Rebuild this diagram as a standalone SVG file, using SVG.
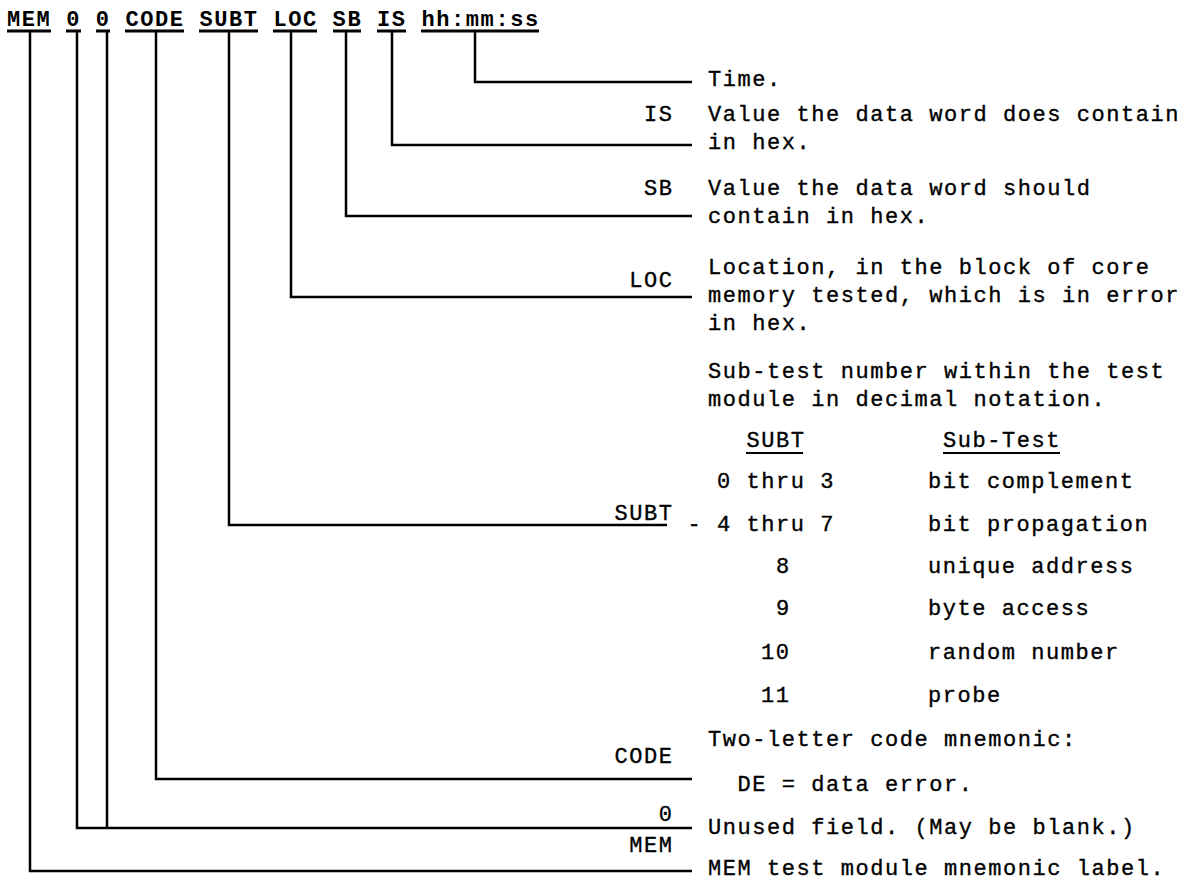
<svg xmlns="http://www.w3.org/2000/svg" width="1189" height="883" viewBox="0 0 1189 883">
<style>
  .hd { font-family: "Liberation Mono", "Courier New", monospace; font-weight: bold; font-size: 22px; letter-spacing: 1.6px; fill: #000; }
  .tx { font-family: "Liberation Mono", "Courier New", monospace; font-size: 22px; letter-spacing: 1.55px; fill: #000; stroke: #000; stroke-width: 0.35px; }
  .lb { font-family: "Liberation Mono", "Courier New", monospace; font-size: 22px; letter-spacing: 1.55px; fill: #000; stroke: #000; stroke-width: 0.35px; text-anchor: end; }
  .ul { stroke: #000; stroke-width: 3; fill: none; }
  .ln { stroke: #000; stroke-width: 2.5; fill: none; stroke-linejoin: miter; }
  .tl { stroke: #000; stroke-width: 2; fill: none; }
</style>
<rect width="1189" height="883" fill="#fff"/>

<g id="header">
  <text class="hd" x="7" y="26">MEM</text>
  <text class="hd" x="66.2" y="26">0</text>
  <text class="hd" x="95.8" y="26">0</text>
  <text class="hd" x="125.4" y="26">CODE</text>
  <text class="hd" x="199.4" y="26">SUBT</text>
  <text class="hd" x="273.4" y="26">LOC</text>
  <text class="hd" x="332.6" y="26">SB</text>
  <text class="hd" x="377" y="26">IS</text>
  <text class="hd" x="421.4" y="26">hh:mm:ss</text>
  <path class="ul" d="M7 31H51 M66 31H81 M96 31H110 M125 31H184 M199 31H258 M273 31H317 M333 31H361 M377 31H406 M421 31H539"/>
</g>

<g id="connectors">
  <path class="ln" d="M475 31V82H692"/>
  <path class="ln" d="M392 31V145H692"/>
  <path class="ln" d="M346 31V216H692"/>
  <path class="ln" d="M291 31V297H692"/>
  <path class="ln" d="M229 31V525H667"/>
  <path class="ln" d="M156 31V779H692"/>
  <path class="ln" d="M107 31V828"/>
  <path class="ln" d="M77 31V828H692"/>
  <path class="ln" d="M30 31V871H692"/>
</g>

<g id="time">
  <text class="tx" x="708" y="86">Time.</text>
</g>
<g id="is">
  <text class="lb" x="673.5" y="121">IS</text>
  <text class="tx" x="708" y="121">Value the data word does contain</text>
  <text class="tx" x="708" y="149">in hex.</text>
</g>
<g id="sb">
  <text class="lb" x="673.5" y="195">SB</text>
  <text class="tx" x="708" y="195">Value the data word should</text>
  <text class="tx" x="708" y="223">contain in hex.</text>
</g>
<g id="loc">
  <text class="lb" x="673.5" y="287">LOC</text>
  <text class="tx" x="708" y="274">Location, in the block of core</text>
  <text class="tx" x="708" y="302">memory tested, which is in error</text>
  <text class="tx" x="708" y="330">in hex.</text>
</g>
<g id="subt">
  <text class="lb" x="673.5" y="520">SUBT</text>
  <text class="tx" x="708" y="378">Sub-test number within the test</text>
  <text class="tx" x="708" y="406">module in decimal notation.</text>
  <text class="tx" x="746.5" y="447">SUBT</text>
  <text class="tx" x="943" y="447">Sub-Test</text>
  <path class="tl" d="M746 453H803 M943 453H1060"/>
  <text class="tx" x="717" y="488">0 thru 3</text>
  <text class="tx" x="928" y="488">bit complement</text>
  <text class="tx" x="687.5" y="531">-</text>
  <text class="tx" x="717" y="531">4 thru 7</text>
  <text class="tx" x="928" y="531">bit propagation</text>
  <text class="tx" x="776" y="573">8</text>
  <text class="tx" x="928" y="573">unique address</text>
  <text class="tx" x="776" y="615">9</text>
  <text class="tx" x="928" y="615">byte access</text>
  <text class="tx" x="761" y="659">10</text>
  <text class="tx" x="928" y="659">random number</text>
  <text class="tx" x="761" y="702">11</text>
  <text class="tx" x="928" y="702">probe</text>
</g>
<g id="code">
  <text class="lb" x="673.5" y="763">CODE</text>
  <text class="tx" x="708" y="746">Two-letter code mnemonic:</text>
  <text class="tx" x="737.5" y="791">DE = data error.</text>
</g>
<g id="zero">
  <text class="lb" x="673.5" y="821">0</text>
  <text class="tx" x="708" y="834">Unused field. (May be blank.)</text>
</g>
<g id="mem">
  <text class="lb" x="673.5" y="852">MEM</text>
  <text class="tx" x="708" y="875">MEM test module mnemonic label.</text>
</g>
</svg>
